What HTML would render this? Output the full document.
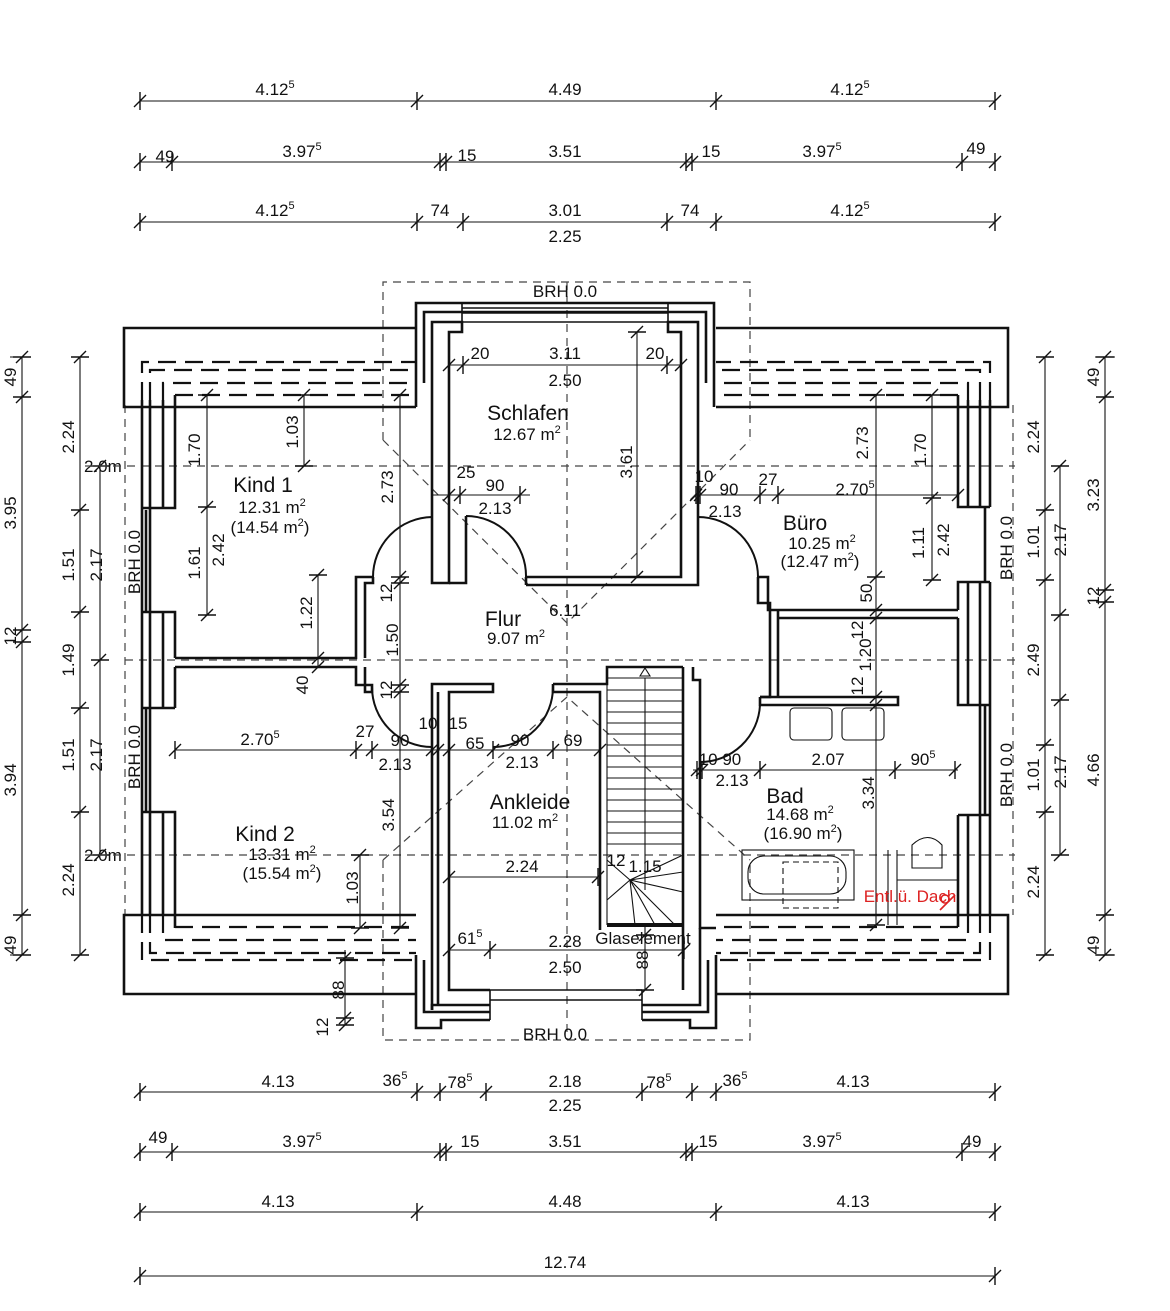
<!DOCTYPE html>
<html><head><meta charset="utf-8"><style>
html,body{margin:0;padding:0;background:#fff}
svg{display:block}
text{font-family:"Liberation Sans",sans-serif;font-size:17px;fill:#111}
.w{fill:none;stroke:#111;stroke-width:2.6}
.t{fill:none;stroke:#111;stroke-width:1.1}
.d{fill:none;stroke:#444;stroke-width:1.2;stroke-dasharray:8,6}
.dd{fill:none;stroke:#111;stroke-width:2.2;stroke-dasharray:18,9}
.big{font-size:21px}
</style></head><body>
<svg width="1170" height="1311" viewBox="0 0 1170 1311" xmlns="http://www.w3.org/2000/svg">
<defs><path id="k" d="M-6,6 L6,-6 M0,-9 V9" stroke="#111" stroke-width="1.4" fill="none"/>
<path id="kv" d="M-6,6 L6,-6 M-9,0 H9" stroke="#111" stroke-width="1.4" fill="none"/></defs>

<!-- TOP DIMENSION ROWS -->
<g class="t"><path d="M140,101H995M140,162H995M140,222H995M140,1092H995M140,1152H995M140,1212H995M140,1276H995"/></g>
<g>
<use href="#k" x="140" y="101"/><use href="#k" x="417" y="101"/><use href="#k" x="716" y="101"/><use href="#k" x="995" y="101"/>
<use href="#k" x="140" y="162"/><use href="#k" x="172" y="162"/><use href="#k" x="440" y="162"/><use href="#k" x="446" y="162"/><use href="#k" x="686" y="162"/><use href="#k" x="692" y="162"/><use href="#k" x="962" y="162"/><use href="#k" x="995" y="162"/>
<use href="#k" x="140" y="222"/><use href="#k" x="417" y="222"/><use href="#k" x="463" y="222"/><use href="#k" x="667" y="222"/><use href="#k" x="716" y="222"/><use href="#k" x="995" y="222"/>
<use href="#k" x="140" y="1092"/><use href="#k" x="417" y="1092"/><use href="#k" x="440" y="1092"/><use href="#k" x="486" y="1092"/><use href="#k" x="642" y="1092"/><use href="#k" x="692" y="1092"/><use href="#k" x="716" y="1092"/><use href="#k" x="995" y="1092"/>
<use href="#k" x="140" y="1152"/><use href="#k" x="172" y="1152"/><use href="#k" x="440" y="1152"/><use href="#k" x="446" y="1152"/><use href="#k" x="686" y="1152"/><use href="#k" x="692" y="1152"/><use href="#k" x="962" y="1152"/><use href="#k" x="995" y="1152"/>
<use href="#k" x="140" y="1212"/><use href="#k" x="417" y="1212"/><use href="#k" x="716" y="1212"/><use href="#k" x="995" y="1212"/>
<use href="#k" x="140" y="1276"/><use href="#k" x="995" y="1276"/>
</g>
<g text-anchor="middle">
<text x="275" y="95">4.12<tspan dy="-7" font-size="11">5</tspan></text>
<text x="565" y="95">4.49</text>
<text x="850" y="95">4.12<tspan dy="-7" font-size="11">5</tspan></text>
<text x="165" y="162">49</text><text x="302" y="157">3.97<tspan dy="-7" font-size="11">5</tspan></text><text x="467" y="161">15</text><text x="565" y="157">3.51</text><text x="711" y="157">15</text><text x="822" y="157">3.97<tspan dy="-7" font-size="11">5</tspan></text><text x="976" y="154">49</text>
<text x="275" y="216">4.12<tspan dy="-7" font-size="11">5</tspan></text><text x="440" y="216">74</text><text x="565" y="216">3.01</text><text x="690" y="216">74</text><text x="850" y="216">4.12<tspan dy="-7" font-size="11">5</tspan></text><text x="565" y="242">2.25</text>
<text x="278" y="1087">4.13</text><text x="395" y="1086">36<tspan dy="-7" font-size="11">5</tspan></text><text x="460" y="1088">78<tspan dy="-7" font-size="11">5</tspan></text><text x="565" y="1087">2.18</text><text x="659" y="1088">78<tspan dy="-7" font-size="11">5</tspan></text><text x="735" y="1086">36<tspan dy="-7" font-size="11">5</tspan></text><text x="853" y="1087">4.13</text><text x="565" y="1111">2.25</text>
<text x="158" y="1143">49</text><text x="302" y="1147">3.97<tspan dy="-7" font-size="11">5</tspan></text><text x="470" y="1147">15</text><text x="565" y="1147">3.51</text><text x="708" y="1147">15</text><text x="822" y="1147">3.97<tspan dy="-7" font-size="11">5</tspan></text><text x="972" y="1147">49</text>
<text x="278" y="1207">4.13</text><text x="565" y="1207">4.48</text><text x="853" y="1207">4.13</text>
<text x="565" y="1268">12.74</text>
</g>

<!-- SIDE DIMENSIONS -->
<g class="t"><path d="M22,357V955M80,357V955M100,466V855M1045,357V955M1060,466V855M1105,357V955"/>
<path d="M10,357H30M10,955H30M1095,357H1115M1095,955H1115"/></g>
<g>
<use href="#kv" x="22" y="357"/><use href="#kv" x="22" y="397"/><use href="#kv" x="22" y="630"/><use href="#kv" x="22" y="642"/><use href="#kv" x="22" y="915"/><use href="#kv" x="22" y="955"/>
<use href="#kv" x="80" y="357"/><use href="#kv" x="80" y="510"/><use href="#kv" x="80" y="612"/><use href="#kv" x="80" y="708"/><use href="#kv" x="80" y="812"/><use href="#kv" x="80" y="955"/>
<use href="#kv" x="100" y="466"/><use href="#kv" x="100" y="660"/><use href="#kv" x="100" y="855"/>
<use href="#kv" x="1045" y="357"/><use href="#kv" x="1045" y="510"/><use href="#kv" x="1045" y="580"/><use href="#kv" x="1045" y="745"/><use href="#kv" x="1045" y="812"/><use href="#kv" x="1045" y="955"/>
<use href="#kv" x="1060" y="466"/><use href="#kv" x="1060" y="615"/><use href="#kv" x="1060" y="700"/><use href="#kv" x="1060" y="855"/>
<use href="#kv" x="1105" y="357"/><use href="#kv" x="1105" y="397"/><use href="#kv" x="1105" y="590"/><use href="#kv" x="1105" y="602"/><use href="#kv" x="1105" y="915"/><use href="#kv" x="1105" y="955"/>
</g>
<g text-anchor="middle">
<text transform="translate(16,377) rotate(-90)">49</text><text transform="translate(16,513) rotate(-90)">3.95</text><text transform="translate(16,636) rotate(-90)">12</text><text transform="translate(16,780) rotate(-90)">3.94</text><text transform="translate(16,945) rotate(-90)">49</text>
<text transform="translate(74,437) rotate(-90)">2.24</text><text transform="translate(74,565) rotate(-90)">1.51</text><text transform="translate(74,660) rotate(-90)">1.49</text><text transform="translate(74,755) rotate(-90)">1.51</text><text transform="translate(74,880) rotate(-90)">2.24</text>
<text transform="translate(102,565) rotate(-90)">2.17</text><text transform="translate(102,755) rotate(-90)">2.17</text>
<text transform="translate(1039,437) rotate(-90)">2.24</text><text transform="translate(1039,542) rotate(-90)">1.01</text><text transform="translate(1039,660) rotate(-90)">2.49</text><text transform="translate(1039,775) rotate(-90)">1.01</text><text transform="translate(1039,882) rotate(-90)">2.24</text>
<text transform="translate(1066,540) rotate(-90)">2.17</text><text transform="translate(1066,772) rotate(-90)">2.17</text>
<text transform="translate(1099,377) rotate(-90)">49</text><text transform="translate(1099,495) rotate(-90)">3.23</text><text transform="translate(1099,596) rotate(-90)">12</text><text transform="translate(1099,770) rotate(-90)">4.66</text><text transform="translate(1099,945) rotate(-90)">49</text>
</g>
<text x="84" y="472" font-size="15">2.0m</text><text x="84" y="861" font-size="15">2.0m</text>

<!-- DASHED REFERENCE LINES -->
<g class="d">
<path d="M85,466H1015M85,855H1015M125,660H1015M125,405V915M1013,405V915"/>
<path d="M383,440V282H750V440M383,440L567,623L750,440"/>
<path d="M383,860V1040H750V860M383,860L567,697L750,860"/>
<path d="M567,282V1040"/>
</g>

<!-- ROOF BANDS -->
<g class="w" stroke-width="2">
<path d="M416,407H124V328H416"/><path d="M716,407H1008V328H716"/>
<path d="M416,915H124V994H416"/><path d="M716,915H1008V994H716"/>
</g>
<g class="dd">
<path d="M142,400V362H416M150,400V370H416M163,400V383H416M175,395H416"/>
<path d="M990,400V362H716M980,400V370H716M968,400V383H716M958,395H716"/>
<path d="M142,915V960H416M150,915V953H416M163,915V940H416M175,927H416"/>
<path d="M990,915V960H716M980,915V953H716M968,915V940H716M958,927H716"/>
</g>

<!-- WALLS -->
<g class="w">
<!-- left exterior -->
<path d="M142,400V510M150,400V510M163,400V508M175,395V508H142M142,612H175V658M163,612V708M142,612V708M150,612V708M142,708H175M175,667V708"/>
<path d="M142,812H175V928M163,812V915M142,812V915M150,812V915M146,510V612M146,708V812M142,510V612M150,510V612M142,708V812M150,708V812"/>
<!-- right exterior -->
<path d="M990,400V507M980,400V507M968,400V507M958,395V507H990M990,582H958V610M968,582V705M990,582V705M980,582V705M958,618V705H990"/>
<path d="M958,815H990V915M968,815V915M980,815V915M958,815V927M985,507V582M985,705V815M990,705V815M980,705V815"/>
<!-- top dormer -->
<path d="M416,407V303H714V407"/>
<path d="M424,383V312H706V383"/>
<path d="M432,395V322H462V332H449V583H432V395"/>
<path d="M698,395V322H668V332H681V577H526"/>
<path d="M698,395V585H526"/>
<path d="M526,577V585"/>
<path d="M449,583H466V516"/>
<path d="M462,303V322M668,303V322M462,308H668M462,313H668M462,322H668" stroke-width="1.6"/>
<!-- door arcs -->
<path d="M466,516A60,60 0 0 1 526,577" stroke-width="2"/>
<path d="M432,517A60,60 0 0 0 373,577" stroke-width="2"/>
<path d="M698,517A60,60 0 0 1 758,577" stroke-width="2"/>
<!-- flur left -->
<path d="M373,577H356V658H175M373,577V583H365V658"/>
<path d="M175,667H356V685H372V692H365V667"/>
<path d="M372,687A60,60 0 0 0 432,747" stroke-width="2"/>
<!-- ankleide -->
<path d="M432,1010V684H493V692H449V990H490"/>
<path d="M438,692V1005"/>
<path d="M553,684V692H600V930M553,684H607V667H683V667"/>
<path d="M553,687A60,60 0 0 1 493,747" stroke-width="2"/>
<!-- buero -->
<path d="M758,577V603H770V697H760M758,577H768V610H958M778,610V697M778,618H958"/>
<!-- bad -->
<path d="M760,697H898V705H760V697"/>
<path d="M760,705A60,60 0 0 1 700,762" stroke-width="2"/>
<path d="M683,667V990M693,667V680H700V928H716"/>
<!-- bottom dormer -->
<path d="M416,955V1028H441V1020H490M424,960V1012H490M432,1010V1005H490"/>
<path d="M716,955V1028H690V1020H642M708,960V1012H642M700,928V1005H642"/>
<path d="M490,990V1020M642,990V1020M490,990H642M490,1000H642" stroke-width="1.6"/>
</g>

<!-- STAIR -->
<g class="t">
<path d="M607,667V925M683,667V925"/>
<path d="M607,678H683M607,690H683M607,701H683M607,712H683M607,723H683M607,734H683M607,745H683M607,756H683M607,767H683M607,778H683M607,789H683M607,800H683M607,811H683M607,822H683M607,833H683M607,844H683"/>
<path d="M630,880L683,855M630,880L683,872M630,880L683,892M630,880L675,925M630,880L655,925M630,880L635,925M630,880L607,860M630,880L607,900"/>
<path d="M645,678V890M640,676L645,668L650,676Z"/>
</g>
<path d="M607,925H683" stroke="#111" stroke-width="4"/>

<!-- FIXTURES -->
<g class="t" stroke-width="1.4">
<rect x="790" y="708" width="42" height="32" rx="4"/><rect x="842" y="708" width="42" height="32" rx="4"/>
<rect x="742" y="850" width="112" height="50"/><rect x="748" y="856" width="98" height="38" rx="16"/>
<path d="M783,862H838V908H783Z" stroke-dasharray="6,4"/>
<path d="M912,845Q928,830 942,845V868H912Z"/>
<path d="M888,850V925M897,850V925M897,880H958"/>
</g>

<!-- INTERIOR DIM LINES -->
<g class="t">
<path d="M449,365H681M207,395V615M304,395V466M318,575V667M400,395V928M637,332V577M432,495H530M696,495H958M876,395V925M932,395V580M175,750H449M449,750H600M693,770H958M360,855V928M449,877H598M449,950H684M345,950V1025M645,925V990"/>
</g>
<g>
<use href="#k" x="449" y="365"/><use href="#k" x="463" y="365"/><use href="#k" x="667" y="365"/><use href="#k" x="681" y="365"/>
<use href="#kv" x="207" y="395"/><use href="#kv" x="207" y="507"/><use href="#kv" x="207" y="615"/>
<use href="#kv" x="304" y="395"/><use href="#kv" x="304" y="466"/>
<use href="#kv" x="318" y="575"/><use href="#kv" x="318" y="658"/><use href="#kv" x="318" y="667"/>
<use href="#kv" x="400" y="395"/><use href="#kv" x="400" y="577"/><use href="#kv" x="400" y="583"/><use href="#kv" x="400" y="685"/><use href="#kv" x="400" y="692"/><use href="#kv" x="400" y="928"/>
<use href="#kv" x="637" y="332"/><use href="#kv" x="637" y="577"/>
<use href="#k" x="449" y="495"/><use href="#k" x="460" y="495"/><use href="#k" x="520" y="495"/>
<use href="#k" x="696" y="495"/><use href="#k" x="700" y="495"/><use href="#k" x="760" y="495"/><use href="#k" x="778" y="495"/><use href="#k" x="958" y="495"/>
<use href="#kv" x="876" y="395"/><use href="#kv" x="876" y="577"/><use href="#kv" x="876" y="610"/><use href="#kv" x="876" y="618"/><use href="#kv" x="876" y="697"/><use href="#kv" x="876" y="705"/><use href="#kv" x="876" y="925"/>
<use href="#kv" x="932" y="395"/><use href="#kv" x="932" y="498"/><use href="#kv" x="932" y="580"/>
<use href="#k" x="175" y="750"/><use href="#k" x="356" y="750"/><use href="#k" x="372" y="750"/><use href="#k" x="432" y="750"/><use href="#k" x="438" y="750"/><use href="#k" x="449" y="750"/>
<use href="#k" x="493" y="750"/><use href="#k" x="553" y="750"/><use href="#k" x="600" y="750"/>
<use href="#k" x="697" y="770"/><use href="#k" x="702" y="770"/><use href="#k" x="760" y="770"/><use href="#k" x="895" y="770"/><use href="#k" x="955" y="770"/>
<use href="#kv" x="360" y="855"/><use href="#kv" x="360" y="928"/>
<use href="#k" x="449" y="877"/><use href="#k" x="598" y="877"/>
<use href="#k" x="449" y="950"/><use href="#k" x="490" y="950"/><use href="#k" x="684" y="950"/>
<use href="#kv" x="345" y="958"/><use href="#kv" x="345" y="1018"/><use href="#kv" x="345" y="1025"/>
<use href="#kv" x="645" y="935"/><use href="#kv" x="645" y="990"/>
</g>

<!-- LABELS -->
<g text-anchor="middle">
<text x="565" y="297">BRH 0.0</text><text x="555" y="1040">BRH 0.0</text>
<text transform="translate(140,562) rotate(-90)">BRH 0.0</text><text transform="translate(140,757) rotate(-90)">BRH 0.0</text>
<text transform="translate(1012,548) rotate(-90)">BRH 0.0</text><text transform="translate(1012,775) rotate(-90)">BRH 0.0</text>
<text class="big" x="263" y="492">Kind 1</text><text x="272" y="513">12.31 m<tspan dy="-7" font-size="11">2</tspan></text><text x="270" y="533">(14.54 m<tspan dy="-7" font-size="11">2</tspan><tspan dy="7">)</tspan></text>
<text class="big" x="528" y="420">Schlafen</text><text x="527" y="440">12.67 m<tspan dy="-7" font-size="11">2</tspan></text>
<text class="big" x="805" y="530">Büro</text><text x="822" y="549">10.25 m<tspan dy="-7" font-size="11">2</tspan></text><text x="820" y="567">(12.47 m<tspan dy="-7" font-size="11">2</tspan><tspan dy="7">)</tspan></text>
<text class="big" x="503" y="626">Flur</text><text x="516" y="644">9.07 m<tspan dy="-7" font-size="11">2</tspan></text><text x="565" y="616">6.11</text>
<text class="big" x="265" y="841">Kind 2</text><text x="282" y="860">13.31 m<tspan dy="-7" font-size="11">2</tspan></text><text x="282" y="879">(15.54 m<tspan dy="-7" font-size="11">2</tspan><tspan dy="7">)</tspan></text>
<text class="big" x="530" y="809">Ankleide</text><text x="525" y="828">11.02 m<tspan dy="-7" font-size="11">2</tspan></text>
<text class="big" x="785" y="803">Bad</text><text x="800" y="820">14.68 m<tspan dy="-7" font-size="11">2</tspan></text><text x="803" y="839">(16.90 m<tspan dy="-7" font-size="11">2</tspan><tspan dy="7">)</tspan></text>
<text x="910" y="902" fill="#d22" style="fill:#d22" font-size="15">Entl.ü. Dach</text>
<text x="643" y="944" font-size="14">Glaselement</text>
<text x="480" y="359">20</text><text x="565" y="359">3.11</text><text x="655" y="359">20</text><text x="565" y="386">2.50</text>
<text transform="translate(200,450) rotate(-90)">1.70</text><text transform="translate(298,432) rotate(-90)">1.03</text><text transform="translate(393,487) rotate(-90)">2.73</text><text transform="translate(632,462) rotate(-90)">3.61</text>
<text x="466" y="478">25</text><text x="495" y="491">90</text><text x="495" y="514">2.13</text>
<text x="704" y="482">10</text><text x="729" y="495">90</text><text x="768" y="485">27</text><text x="855" y="495">2.70<tspan dy="-7" font-size="11">5</tspan></text><text x="725" y="517">2.13</text>
<text transform="translate(868,443) rotate(-90)">2.73</text><text transform="translate(926,450) rotate(-90)">1.70</text>
<text transform="translate(200,563) rotate(-90)">1.61</text><text transform="translate(224,550) rotate(-90)">2.42</text><text transform="translate(312,613) rotate(-90)">1.22</text>
<text transform="translate(392,593) rotate(-90)">12</text><text transform="translate(398,640) rotate(-90)">1.50</text><text transform="translate(392,690) rotate(-90)">12</text><text transform="translate(308,685) rotate(-90)">40</text>
<text transform="translate(924,543) rotate(-90)">1.11</text><text transform="translate(949,540) rotate(-90)">2.42</text>
<text transform="translate(872,593) rotate(-90)">50</text><text transform="translate(863,630) rotate(-90)">12</text><text transform="translate(871,655) rotate(-90)">1.20</text><text transform="translate(863,686) rotate(-90)">12</text>
<text x="260" y="745">2.70<tspan dy="-7" font-size="11">5</tspan></text><text x="365" y="737">27</text><text x="400" y="746">90</text><text x="428" y="729">10</text><text x="458" y="729">15</text><text x="475" y="749">65</text><text x="520" y="746">90</text><text x="573" y="746">69</text>
<text x="395" y="770">2.13</text><text x="522" y="768">2.13</text>
<text x="720" y="765">10 90</text><text x="732" y="786">2.13</text><text x="828" y="765">2.07</text><text x="923" y="765">90<tspan dy="-7" font-size="11">5</tspan></text>
<text transform="translate(394,815) rotate(-90)">3.54</text><text transform="translate(874,793) rotate(-90)">3.34</text>
<text x="522" y="872">2.24</text><text x="616" y="866" font-size="15">12</text><text x="645" y="872">1.15</text>
<text transform="translate(358,888) rotate(-90)">1.03</text>
<text x="470" y="944">61<tspan dy="-7" font-size="11">5</tspan></text><text x="565" y="947">2.28</text><text x="565" y="973">2.50</text>
<text transform="translate(648,960) rotate(-90)">88</text><text transform="translate(344,990) rotate(-90)">88</text><text transform="translate(328,1027) rotate(-90)">12</text>
</g>
<path d="M940,910L955,895M945,903A4,4 0 1 1 945.1,903" stroke="#d22" stroke-width="1.6" fill="none"/>
</svg>
</body></html>
